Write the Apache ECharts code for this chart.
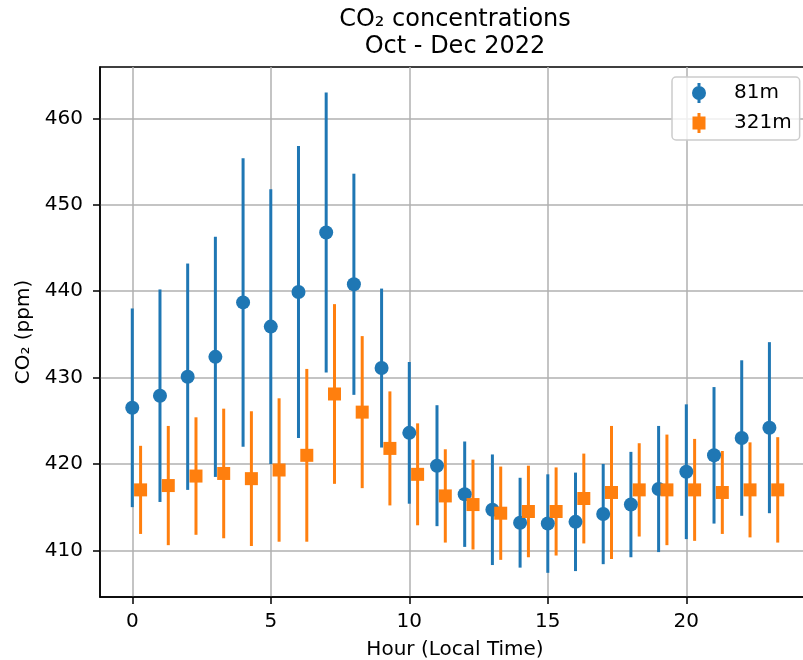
<!DOCTYPE html>
<html>
<head>
<meta charset="utf-8">
<script src="https://cdn.jsdelivr.net/npm/echarts@6/dist/echarts.min.js"></script>
<style>
  html, body { margin: 0; padding: 0; background: #fff; }
  #chart { width: 803px; height: 660px; }
</style>
</head>
<body>
<div id="chart"></div>
<script>
// hour of day (local time)
const hours = [0, 1, 2, 3, 4, 5, 6, 7, 8, 9, 10, 11, 12, 13, 14, 15, 16, 17, 18, 19, 20, 21, 22, 23];

// 81m inlet: mean and std (ppm)
const mean81 = [426.5, 427.9, 430.1, 432.4, 438.7, 435.9, 439.9, 446.8, 440.8, 431.1, 423.6, 419.8,
                416.5, 414.7, 413.2, 413.1, 413.3, 414.2, 415.3, 417.1, 419.1, 421.0, 423.0, 424.2];
const err81 = [11.5, 12.3, 13.1, 13.9, 16.7, 15.9, 16.9, 16.2, 12.8, 9.2, 8.2, 7.0,
               6.1, 6.4, 5.2, 5.7, 5.7, 5.8, 6.1, 7.3, 7.8, 7.9, 9.0, 9.9];

// 321m inlet: mean and std (ppm)
const mean321 = [417.0, 417.5, 418.6, 418.9, 418.3, 419.3, 421.0, 428.1, 426.0, 421.8, 418.8, 416.3,
                 415.3, 414.3, 414.5, 414.5, 416.0, 416.7, 417.0, 417.0, 417.0, 416.7, 417.0, 417.0];
const err321 = [5.1, 6.9, 6.8, 7.5, 7.8, 8.3, 10.0, 10.4, 8.8, 6.6, 5.9, 5.4,
                5.2, 5.4, 5.3, 5.1, 5.2, 7.7, 5.4, 6.4, 5.9, 4.8, 5.5, 6.1];

const xTicks = [0, 5, 10, 15, 20];
const yTicks = [410, 420, 430, 440, 450, 460];

const BLUE = '#1f77b4';
const ORANGE = '#ff7f0e';
const FONT = 'DejaVu Sans';
const OFFSET = 0.3; // 321m points are shifted right so bars don't overlap

const errData = (xs, means, errs, dx) =>
    xs.map((h, i) => [h + dx, means[i] - errs[i], means[i] + errs[i]]);
const ptData = (xs, means, dx) => xs.map((h, i) => [h + dx, means[i]]);

const errSeries = (name, data, color) => ({
    name,
    type: 'custom',
    data,
    encode: { x: 0, y: [1, 2] },
    itemStyle: { color },
    renderItem: (params, api) => {
        const lo = api.coord([api.value(0), api.value(1)]);
        const hi = api.coord([api.value(0), api.value(2)]);
        return {
            type: 'line',
            shape: { x1: lo[0], y1: lo[1], x2: hi[0], y2: hi[1] },
            style: { stroke: color, lineWidth: 3 }
        };
    }
});

const circleIcon = 'path://M5.5,0 H8.5 V20 H5.5 Z M0,10 A7,7 0 1,1 14,10 A7,7 0 1,1 0,10 Z';
const squareIcon = 'path://M5,0 H8 V20 H5 Z M0,3.5 H13 V16.5 H0 Z';

const axisText = { fontFamily: FONT, fontSize: 20, color: '#000' };
const black = { color: '#000', width: 1.5 };

const chart = echarts.init(document.getElementById('chart'));
chart.setOption({
    animation: false,
    textStyle: { fontFamily: FONT },
    title: {
        text: 'CO\u2082 concentrations\nOct - Dec 2022',
        left: 455,
        top: 6,
        padding: 0,
        textAlign: 'center',
        textStyle: { fontFamily: FONT, fontSize: 24, fontWeight: 'normal', color: '#000', lineHeight: 27 }
    },
    legend: {
        left: 672,
        top: 77,
        orient: 'vertical',
        padding: [6, 8, 7, 20],
        itemGap: 10,
        itemWidth: 14,
        itemHeight: 20,
        borderColor: '#cccccc',
        borderWidth: 1.5,
        borderRadius: 4,
        backgroundColor: 'rgba(255,255,255,0.8)',
        textStyle: { fontFamily: FONT, fontSize: 20, color: '#000', padding: [0, 0, 0, 23] },
        data: [
            { name: '81m', icon: circleIcon, itemStyle: { color: BLUE } },
            { name: '321m', icon: squareIcon, itemStyle: { color: ORANGE } }
        ]
    },
    grid: {
        left: 100, top: 67, width: 710, height: 530,
        outerBoundsMode: 'none',
        containLabel: false,
        show: true, borderColor: '#000', borderWidth: 1.5
    },
    xAxis: {
        type: 'value',
        min: -1.165, max: 24.465,
        name: 'Hour (Local Time)',
        nameLocation: 'middle',
        nameGap: 43,
        nameTextStyle: axisText,
        axisLine: { show: true, onZero: false, lineStyle: black },
        axisTick: { show: true, length: 7, customValues: xTicks, lineStyle: black },
        axisLabel: Object.assign({ customValues: xTicks, margin: 15 }, axisText),
        splitLine: { show: true, lineStyle: { color: '#b0b0b0', width: 1.5 } }
    },
    yAxis: {
        type: 'value',
        min: 404.6, max: 465.95,
        name: 'CO\u2082 (ppm)',
        nameLocation: 'middle',
        nameGap: 66,
        nameTextStyle: axisText,
        axisLine: { show: true, onZero: false, lineStyle: black },
        axisTick: { show: true, length: 7, customValues: yTicks, lineStyle: black },
        axisLabel: Object.assign({ customValues: yTicks, margin: 17 }, axisText),
        splitLine: { show: true, lineStyle: { color: '#b0b0b0', width: 1.5 } }
    },
    series: [
        errSeries('81m', errData(hours, mean81, err81, 0), BLUE),
        {
            name: '81m', type: 'scatter',
            data: ptData(hours, mean81, 0),
            symbol: 'circle', symbolSize: 14,
            itemStyle: { color: BLUE, opacity: 1 }
        },
        errSeries('321m', errData(hours, mean321, err321, OFFSET), ORANGE),
        {
            name: '321m', type: 'scatter',
            data: ptData(hours, mean321, OFFSET),
            symbol: 'rect', symbolSize: 13,
            itemStyle: { color: ORANGE, opacity: 1 }
        }
    ]
});
window.addEventListener('resize', () => chart.resize());
</script>
</body>
</html>
